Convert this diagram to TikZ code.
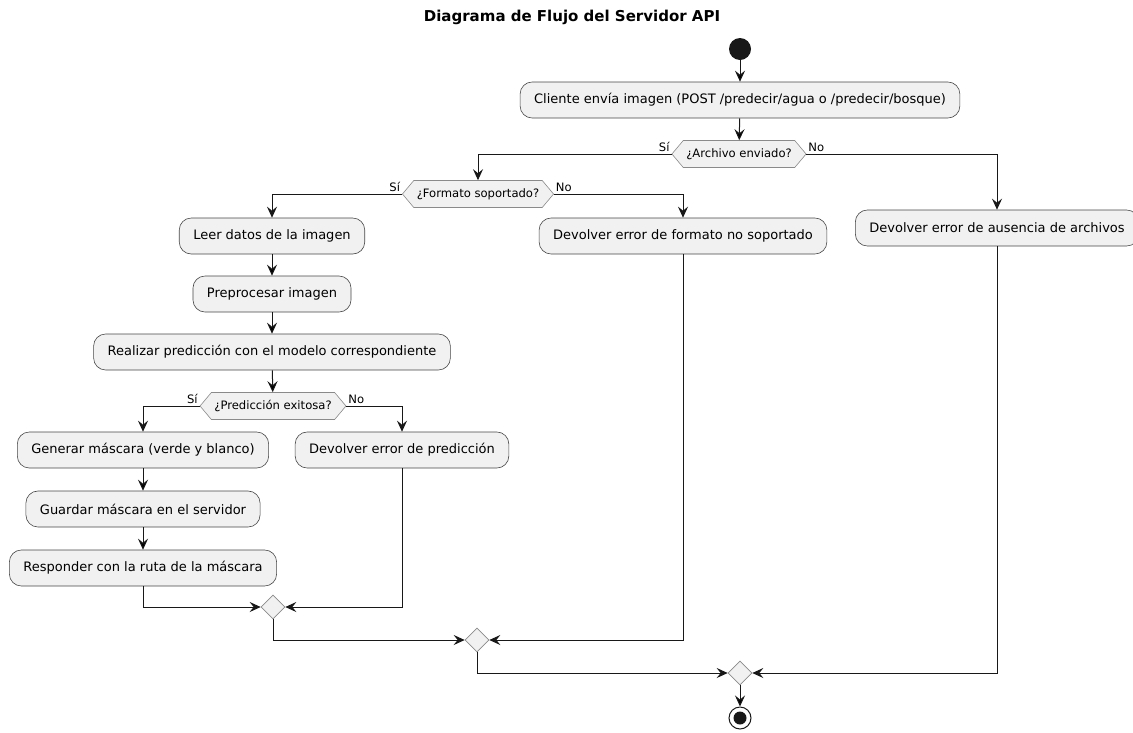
\documentclass[tikz,border=0pt]{standalone}
\usepackage{fontspec}
\setmainfont{DejaVu Sans}
\usepackage{tikz}
\usetikzlibrary{positioning}
\usetikzlibrary{shapes.geometric,shapes.symbols,arrows.meta}
\definecolor{boxfill}{HTML}{F1F1F1}
\definecolor{boxline}{HTML}{181818}
\definecolor{diaedge}{HTML}{8A8A8A}
\tikzset{
	flow/.style = {-{Stealth[length=11pt,width=10pt,inset=4pt]}, line width=1pt, draw=boxline},
	act/.style = {rectangle, rounded corners=12pt, draw=boxline!80, line width=0.6pt,
	 fill=boxfill, minimum height=36pt, inner xsep=14pt,
	 font=\fontsize{13}{15}\selectfont},
	test/.style = {signal, signal to=west and east, signal pointer angle=100,
	 draw=diaedge, line width=0.6pt, fill=boxfill, minimum height=27pt,
	 inner xsep=3pt, font=\fontsize{11.6}{13}\selectfont},
	merge/.style = {diamond, draw=diaedge, line width=0.6pt, fill=boxfill,
	 minimum size=24pt, inner sep=0pt},
	lbl/.style = {font=\fontsize{11.6}{13}\selectfont, inner sep=1.5pt},
}

\begin{document}
\begin{tikzpicture}[x=1pt, y=-1pt]
        \useasboundingbox (0,0) rectangle (1133,732);
        \node (title) at (572,17) {\fontsize{15}{17}\selectfont\bfseries Diagrama de Flujo del Servidor API};
        % inicio
        \node (start) at (740,49) [circle, fill=boxline, minimum size=22pt, inner sep=0pt] {};
        \node (cliente) at (740,100) [act] {Cliente envía imagen (POST /predecir/agua o /predecir/bosque)};
        \node (archivo) at (739,154) [test] {¿Archivo enviado?};
        \node (formato) at (478,194) [test] {¿Formato soportado?};
        \node (ausencia) at (997,228) [act] {Devolver error de ausencia de archivos};
        \node (leer) at (272,236) [act] {Leer datos de la imagen};
        \node (errformato) at (683,236) [act] {Devolver error de formato no soportado};
        \node (preproc) at (272,294) [act] {Preprocesar imagen};
        \node (predecir) at (272,352) [act] {Realizar predicción con el modelo correspondiente};
        \node (exito) at (273,406) [test] {¿Predicción exitosa?};
        \node (mascara) at (143,450) [act] {Generar máscara (verde y blanco)};
        \node (errpred) at (402,450) [act] {Devolver error de predicción};
        \node (guardar) at (143,509) [act] {Guardar máscara en el servidor};
        \node (responder) at (143,568) [act] {Responder con la ruta de la máscara};
        % uniones
        \node (m1) at (273,607) [merge] {};
        \node (m2) at (477,640) [merge] {};
        \node (m3) at (740,673) [merge] {};
        \node (stop) at (740,718) [circle, draw=boxline, line width=1pt, minimum size=22pt, inner sep=0pt] {};
        \node (stopin) at (740,718) [circle, fill=boxline, minimum size=13pt, inner sep=0pt] {};

        \path[flow] (start) edge (cliente);
        \path[flow] (cliente) edge (archivo);
        \draw[flow] (archivo.west) -- node[lbl, pos=0, above left]{Sí} +(0,0) -| (formato.north);
        \draw[flow] (archivo.east) -- node[lbl, pos=0, above right]{No} +(0,0) -| (ausencia.north);
        \draw[flow] (formato.west) -- node[lbl, pos=0, above left]{Sí} +(0,0) -| (leer.north);
        \draw[flow] (formato.east) -- node[lbl, pos=0, above right]{No} +(0,0) -| (errformato.north);
        \path[flow] (leer) edge (preproc);
        \path[flow] (preproc) edge (predecir);
        \path[flow] (predecir) edge (exito);
        \draw[flow] (exito.west) -- node[lbl, pos=0, above left]{Sí} +(0,0) -| (mascara.north);
        \draw[flow] (exito.east) -- node[lbl, pos=0, above right]{No} +(0,0) -| (errpred.north);
        \path[flow] (mascara) edge (guardar);
        \path[flow] (guardar) edge (responder);
        \draw[flow] (responder.south) |- (m1.west);
        \draw[flow] (errpred.south) |- (m1.east);
        \draw[flow] (m1.south) |- (m2.west);
        \draw[flow] (errformato.south) |- (m2.east);
        \draw[flow] (m2.south) |- (m3.west);
        \draw[flow] (ausencia.south) |- (m3.east);
        \path[flow] (m3) edge (stop);
\end{tikzpicture}
\end{document}
